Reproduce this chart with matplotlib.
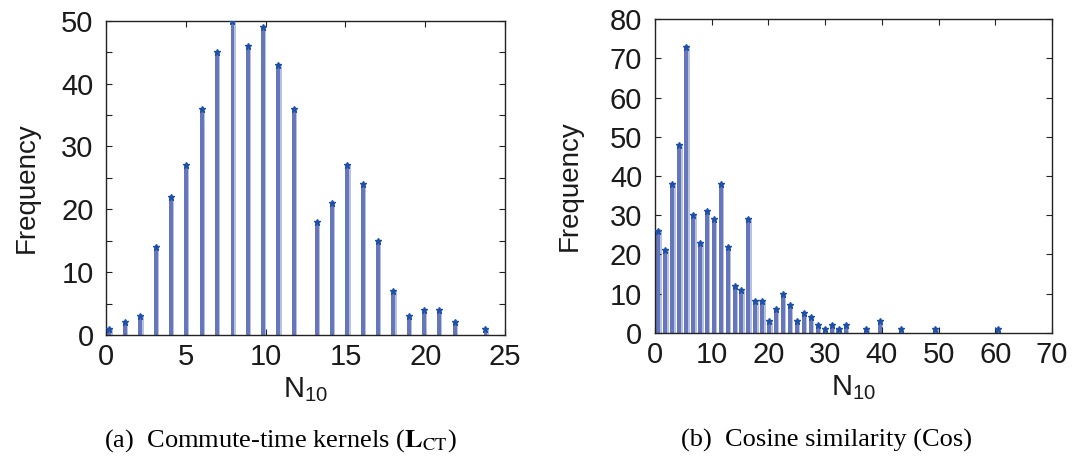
import matplotlib
matplotlib.use("Agg")
import matplotlib.pyplot as plt
from matplotlib.ticker import MultipleLocator

# ---- data ----
ct_x = [0.21, 1.19, 2.15, 3.11, 4.07, 5.03, 6.0, 6.95, 7.92, 8.88, 9.84, 10.8,
        11.76, 13.2, 14.16, 15.12, 16.08, 17.04, 18.0, 18.96, 19.92, 20.88,
        21.85, 23.77]
ct_freq = [1, 2, 3, 14, 22, 27, 36, 45, 50, 46, 49, 43, 36, 18, 21, 27, 24,
           15, 7, 3, 4, 4, 2, 1]

cos_x = [0.59, 1.82, 3.05, 4.28, 5.52, 6.75, 7.98, 9.15, 10.39, 11.62, 12.85,
         14.08, 15.26, 16.49, 17.72, 18.96, 20.19, 21.36, 22.59, 23.83, 25.06,
         26.23, 27.46, 28.7, 29.93, 31.16, 32.39, 33.63, 37.27, 39.67, 43.37,
         49.41, 60.45]
cos_freq = [26, 21, 38, 48, 73, 30, 23, 31, 29, 38, 22, 12, 11, 29, 8, 8, 3,
            6, 10, 7, 3, 5, 4, 2, 1, 2, 1, 2, 1, 3, 1, 1, 1]

left_xticks = [0, 5, 10, 15, 20, 25]
left_yticks = [0, 10, 20, 30, 40, 50]
right_xticks = [0, 10, 20, 30, 40, 50, 60, 70]
right_yticks = [0, 10, 20, 30, 40, 50, 60, 70, 80]

caption_a = r"(a)  Commute-time kernels ($\mathbf{L}_{\mathrm{CT}}$)"
caption_b = "(b)  Cosine similarity (Cos)"

SANS = "Liberation Sans"
SERIF = "Liberation Serif"
BAR = "#6676bb"
BAR_LIGHT = "#b9c1e2"
MARK = "#1f50a8"
TICK_FS = 21

plt.rcParams["font.family"] = SANS
plt.rcParams["mathtext.fontset"] = "custom"
plt.rcParams["mathtext.rm"] = SANS
plt.rcParams["mathtext.it"] = SANS + ":italic"
plt.rcParams["mathtext.bf"] = SANS + ":bold"

fig = plt.figure(figsize=(10.73, 4.65), dpi=100)
ax1 = fig.add_axes([0.0988, 0.2796, 0.3719, 0.676])
ax2 = fig.add_axes([0.6102, 0.2845, 0.3703, 0.674])


def draw(ax, xs, ys, w, shift, xlim, ylim, xt, yt, yminor):
    ax.bar([x + shift for x in xs], ys, width=w, color=BAR_LIGHT, zorder=1,
           linewidth=0)
    ax.bar(xs, ys, width=w, color=BAR, zorder=2, linewidth=0)
    ax.plot(xs, ys, linestyle="none", marker="*", markersize=5,
            color=MARK, zorder=3)
    ax.set_xlim(*xlim)
    ax.set_ylim(*ylim)
    ax.set_xticks(xt)
    ax.set_yticks(yt)
    if yminor:
        ax.yaxis.set_minor_locator(MultipleLocator(yminor))
    ax.tick_params(which="both", direction="in", top=True, right=True,
                   length=4, width=0.8, colors="#222222",
                   labelcolor="#1a1a1a")
    ax.tick_params(axis="y", which="major", labelsize=TICK_FS, pad=9)
    ax.tick_params(axis="x", which="major", labelsize=TICK_FS, pad=6)
    for s in ax.spines.values():
        s.set_linewidth(1.0)
        s.set_color("#222222")
    ax.set_ylabel("Frequency", fontsize=20, color="#1a1a1a")
    ax.set_xlabel(r"N$_{10}$", fontsize=21, color="#1a1a1a", labelpad=3)


draw(ax1, ct_x, ct_freq, 0.24, 0.08, (0, 25), (0, 50), left_xticks,
     left_yticks, 5)
draw(ax2, cos_x, cos_freq, 0.74, 0.24, (0, 70), (0, 80), right_xticks,
     right_yticks, None)

ax1.yaxis.set_label_coords(-0.165, 0.47)
ax2.yaxis.set_label_coords(-0.18, 0.47)

fig.text(0.261, 0.04, caption_a, ha="center", va="baseline",
         fontsize=19, family=SERIF, math_fontfamily="stix")
fig.text(0.770, 0.04, caption_b, ha="center", va="baseline",
         fontsize=19, family=SERIF)

fig.savefig("out.png", dpi=100)
